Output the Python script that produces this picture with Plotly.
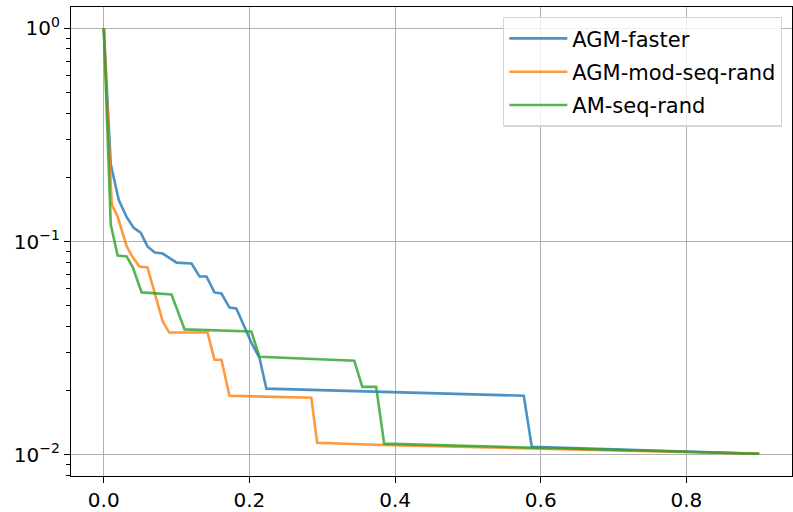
import plotly.graph_objects as go

# AGM-faster
agm_x = [0.0, 0.0096, 0.0205, 0.0315, 0.041, 0.0507, 0.060, 0.070, 0.081, 0.100, 0.1205,
         0.1315, 0.141, 0.152, 0.1616, 0.1726, 0.182, 0.196, 0.204, 0.2137, 0.2233,
         0.5767, 0.5877, 0.90]
agm_y = [1.0, 0.23, 0.157, 0.130, 0.116, 0.110, 0.0948, 0.0887, 0.0878, 0.0796, 0.0788,
         0.0685, 0.0685, 0.0577, 0.057, 0.049, 0.0485, 0.0378, 0.0328, 0.0285, 0.0204,
         0.0189, 0.0109, 0.0101]

# AGM-mod-seq-rand
mod_x = [0.0, 0.011, 0.019, 0.0315, 0.040, 0.049, 0.060, 0.0726, 0.081, 0.090, 0.1425,
         0.152, 0.1616, 0.1726, 0.285, 0.293, 0.382, 0.90]
mod_y = [1.0, 0.149, 0.131, 0.0948, 0.0841, 0.0763, 0.0756, 0.0535, 0.0421, 0.0374, 0.0374,
         0.0279, 0.0279, 0.0189, 0.0185, 0.01137, 0.0111, 0.0101]

# AM-seq-rand
am_x = [0.0, 0.0096, 0.019, 0.0315, 0.040, 0.052, 0.093, 0.111, 0.2027, 0.2137, 0.344,
        0.355, 0.374, 0.385, 0.90]
am_y = [1.0, 0.120, 0.086, 0.085, 0.0755, 0.0577, 0.0564, 0.0387, 0.0378, 0.0288, 0.0276,
        0.0208, 0.0208, 0.01127, 0.0101]

x_ticks = [0.0, 0.2, 0.4, 0.6, 0.8]
x_labels = ["0.0", "0.2", "0.4", "0.6", "0.8"]
y_ticks = [1, 0.1, 0.01]
y_labels = ["10<sup>0</sup>", "10<sup>−1</sup>", "10<sup>−2</sup>"]

series = [
    ("AGM-faster", agm_x, agm_y, "rgba(31,119,180,0.8)"),
    ("AGM-mod-seq-rand", mod_x, mod_y, "rgba(255,127,14,0.8)"),
    ("AM-seq-rand", am_x, am_y, "rgba(44,160,44,0.8)"),
]

fig = go.Figure()
for i, (name, xs, ys, col) in enumerate(series):
    fig.add_trace(go.Scatter(x=xs, y=ys, mode="lines", name=name, legendgroup=f"g{i}",
                             line=dict(color=col, width=2.6)))

minor_vals = []
for dec in [0.001, 0.01, 0.1]:
    for k in range(2, 10):
        minor_vals.append(k * dec)

fig.update_layout(
    width=793, height=512,
    margin=dict(l=71, r=0, t=7, b=34),
    paper_bgcolor="white", plot_bgcolor="white",
    font=dict(family="DejaVu Sans", size=20, color="black"),
    showlegend=True,
    legend=dict(x=0.986, y=0.979, xanchor="right", yanchor="top",
                bgcolor="rgba(255,255,255,0.8)", bordercolor="#d5d5d5", borderwidth=1.4,
                font=dict(size=21, family="DejaVu Sans"), itemwidth=58,
                traceorder="grouped", tracegroupgap=3),
)
fig.update_xaxes(
    range=[-0.045, 0.945], tickvals=x_ticks, ticktext=x_labels,
    showgrid=True, gridcolor="#b0b0b0", gridwidth=1.4,
    zeroline=False, showline=True, linecolor="black", linewidth=1.4, mirror=True,
    ticks="outside", ticklen=6, tickwidth=1.4, tickcolor="black",
)
fig.update_yaxes(
    type="log", range=[-2.1, 0.1], tickvals=y_ticks, ticktext=y_labels,
    showgrid=True, gridcolor="#b0b0b0", gridwidth=1.4,
    zeroline=False, showline=True, linecolor="black", linewidth=1.4, mirror=True,
    ticks="outside", ticklen=6, tickwidth=1.4, tickcolor="black",
    minor=dict(tickvals=minor_vals, ticks="outside", ticklen=3.5, tickwidth=1.1,
               tickcolor="black", showgrid=False),
)

fig.write_html("out.html")
